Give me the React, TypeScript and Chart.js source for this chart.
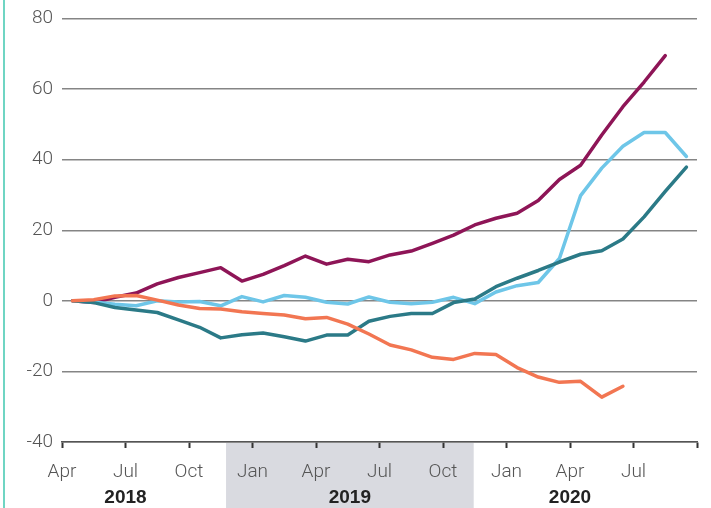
import React, { useEffect, useRef } from "react";
import { Chart, registerables } from "chart.js";

Chart.register(...registerables);

// months since April 2018 (tick positions), one label every quarter
const tickMonths = [0, 3, 6, 9, 12, 15, 18, 21, 24, 27, 30];
const tickLabels = ["Apr", "Jul", "Oct", "Jan", "Apr", "Jul", "Oct", "Jan", "Apr", "Jul", ""];
const yearLabels = ["2018", "2019", "2020"];
const yearCenters = [3, 13.6, 24]; // month positions of year captions
const shadeStart = 7.75;
const shadeEnd = 19.45;

// monthly values, first observation at mid-April 2018
const purpleSeries = [0, -0.5, 1, 2.2, 4.8, 6.6, 8, 9.4, 5.6, 7.5, 10, 12.7, 10.4, 11.8, 11.1, 13, 14.1, 16.3, 18.6, 21.5, 23.4, 24.8, 28.4, 34.4, 38.4, 47, 55, 62, 69.5];
const tealSeries = [0, -0.5, -1.9, -2.6, -3.3, -5.4, -7.5, -10.5, -9.6, -9.1, -10.2, -11.4, -9.7, -9.7, -5.8, -4.4, -3.6, -3.6, -0.5, 0.5, 4, 6.4, 8.6, 11, 13.2, 14.2, 17.5, 23.8, 31, 37.9];
const blueSeries = [0, -0.3, -1, -1.4, 0, -0.3, -0.2, -1.4, 1.2, -0.3, 1.5, 1, -0.4, -0.9, 1.1, -0.4, -0.8, -0.4, 1, -0.8, 2.5, 4.3, 5.2, 12, 29.8, 37.6, 43.8, 47.7, 47.7, 40.9];
const orangeSeries = [0, 0.3, 1.4, 1.5, 0.2, -1.2, -2.2, -2.3, -3.1, -3.6, -4, -5.1, -4.7, -6.6, -9.4, -12.5, -13.9, -16, -16.6, -14.9, -15.2, -18.9, -21.6, -23.1, -22.8, -27.3, -24.2];

const toPoints = (arr: number[]) => arr.map((v, i) => ({ x: i + 0.5, y: v }));

const FONT = "Roboto, 'Liberation Sans', Arial, sans-serif";
const BOLD_FONT = "'Liberation Sans', Arial, sans-serif";

const decorPlugin = {
  id: "decor",
  beforeDraw(chart: any) {
    const { ctx, scales, height } = chart;
    const x = scales.x;
    ctx.save();
    // left accent line
    ctx.fillStyle = "#6FD5C3";
    ctx.fillRect(3, 0, 2, height);
    // 2019 shading below axis
    const x0 = x.getPixelForValue(shadeStart);
    const x1 = x.getPixelForValue(shadeEnd);
    ctx.fillStyle = "#D9DAE0";
    ctx.fillRect(x0, x.top + 1, x1 - x0, height);
    ctx.restore();
  },
  afterDraw(chart: any) {
    const { ctx, scales } = chart;
    const x = scales.x;
    ctx.save();
    ctx.font = `bold 19px ${BOLD_FONT}`;
    ctx.fillStyle = "#222";
    ctx.textAlign = "center";
    ctx.textBaseline = "middle";
    yearLabels.forEach((t, i) => {
      ctx.fillText(t, x.getPixelForValue(yearCenters[i]), 498);
    });
    ctx.restore();
  },
};

export default function App() {
  const ref = useRef<HTMLCanvasElement>(null);
  useEffect(() => {
    document.body.style.margin = "0";
    const mk = (data: number[], color: string) => ({
      data: toPoints(data),
      borderColor: color,
      borderWidth: 3.5,
      pointRadius: 0,
      tension: 0,
      fill: false,
      borderCapStyle: "round" as const,
      borderJoinStyle: "round" as const,
    });
    const chart = new Chart(ref.current!, {
      type: "line",
      data: {
        datasets: [
          mk(orangeSeries, "#F27652"),
          mk(tealSeries, "#2B7A87"),
          mk(blueSeries, "#6EC6E8"),
          mk(purpleSeries, "#8E1557"),
        ],
      },
      plugins: [decorPlugin],
      options: {
        animation: false,
        responsive: false,
        layout: { padding: { top: 17, right: 14, left: 0, bottom: 0 } },
        plugins: { legend: { display: false }, tooltip: { enabled: false } },
        scales: {
          x: {
            type: "linear",
            min: 0,
            max: 30,
            afterBuildTicks: (s: any) => {
              s.ticks = tickMonths.map((v) => ({ value: v }));
            },
            afterFit: (s: any) => {
              s.height = 66;
            },
            ticks: {
              autoSkip: false,
              maxRotation: 0,
              padding: 13,
              color: "#555",
              font: { family: FONT, size: 19, weight: "300" },
              callback: (v: any) => {
                const i = tickMonths.indexOf(Number(v));
                return i >= 0 ? tickLabels[i] : "";
              },
            },
            grid: {
              drawOnChartArea: false,
              drawTicks: true,
              tickLength: 6,
              tickColor: "#333",
              tickWidth: 2,
            },
            border: { display: true, color: "#555", width: 1.5 },
          },
          y: {
            min: -40,
            max: 80,
            afterFit: (s: any) => {
              s.width = 62;
            },
            ticks: {
              stepSize: 20,
              padding: 9,
              color: "#555",
              font: { family: FONT, size: 19, weight: "300", lineHeight: 1 },
            },
            grid: {
              color: "#858585",
              lineWidth: 1.5,
              drawTicks: false,
            },
            border: { display: false },
          },
        },
      },
    });
    return () => chart.destroy();
  }, []);
  return (
    <div style={{ position: "absolute", left: 0, top: 0, width: 711, height: 508 }}>
      <canvas ref={ref} width={711} height={508} style={{ width: 711, height: 508 }} />
    </div>
  );
}
